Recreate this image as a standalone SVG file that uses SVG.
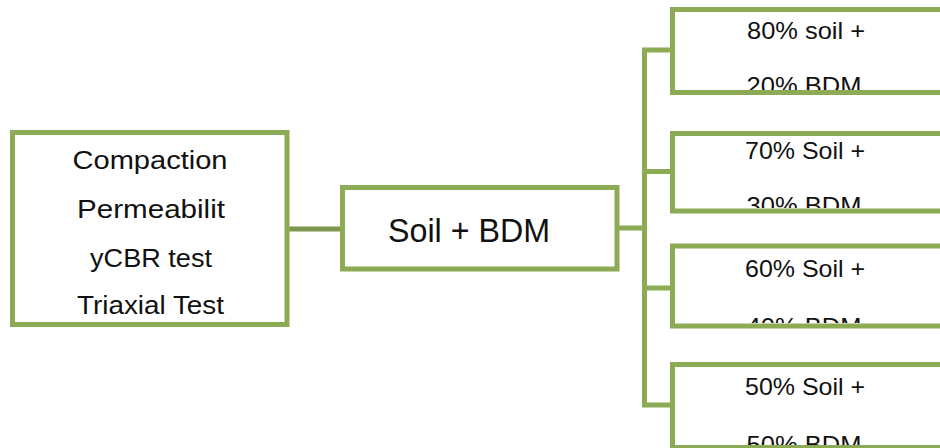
<svg xmlns="http://www.w3.org/2000/svg" width="940" height="448" viewBox="0 0 940 448">
<style>
.box{fill:#fff;stroke:#8dab55;stroke-width:5}
.conn{fill:none;stroke:#8dab55;stroke-width:5;stroke-linejoin:miter}
.t{font-family:"Liberation Sans",Arial,sans-serif;fill:#111;text-anchor:middle}
.l{font-size:26px}
.r{font-size:24px}
.m{font-size:33px}
</style>
<defs>
<clipPath id="c1"><rect x="675" y="12" width="270" height="78"/></clipPath>
<clipPath id="c2"><rect x="675" y="136" width="270" height="72"/></clipPath>
<clipPath id="c3"><rect x="675" y="248" width="270" height="75"/></clipPath>
<clipPath id="c4"><rect x="675" y="367" width="270" height="78"/></clipPath>
</defs>
<g id="connectors">
<line x1="287" y1="229" x2="343" y2="229" stroke="#7d984c" stroke-width="5"/>
<path class="conn" d="M617 228 H644.5 M644.5 50 V405.5 M642 50 H675 M642 171.5 H675 M642 288 H675 M642 405 H675"/>
</g>
<g id="n-tests">
<rect class="box" x="12.5" y="132.5" width="274.5" height="192"/>
<text class="t l" x="150" y="169" textLength="155" lengthAdjust="spacingAndGlyphs">Compaction</text>
<text class="t l" x="151" y="218" textLength="148" lengthAdjust="spacingAndGlyphs">Permeabilit</text>
<text class="t l" x="151" y="266.5" textLength="122" lengthAdjust="spacingAndGlyphs">yCBR test</text>
<text class="t l" x="150.5" y="314" textLength="147" lengthAdjust="spacingAndGlyphs">Triaxial Test</text>
</g>
<g id="n-soilbdm">
<rect class="box" x="342.5" y="187.5" width="274.5" height="81.5"/>
<text class="t m" x="469" y="242" textLength="162" lengthAdjust="spacingAndGlyphs">Soil + BDM</text>
</g>
<g id="n-80">
<rect class="box" x="672.5" y="9.5" width="280" height="83"/>
<g clip-path="url(#c1)">
<text class="t r" x="806" y="38.5" textLength="118" lengthAdjust="spacingAndGlyphs">80% soil +</text>
<text class="t r" x="804" y="94" textLength="115" lengthAdjust="spacingAndGlyphs">20% BDM</text>
</g>
</g>
<g id="n-70">
<rect class="box" x="672.5" y="133.5" width="280" height="77.5"/>
<g clip-path="url(#c2)">
<text class="t r" x="805" y="158.5" textLength="120" lengthAdjust="spacingAndGlyphs">70% Soil +</text>
<text class="t r" x="804" y="214" textLength="115" lengthAdjust="spacingAndGlyphs">30% BDM</text>
</g>
</g>
<g id="n-60">
<rect class="box" x="672.5" y="246" width="280" height="80"/>
<g clip-path="url(#c3)">
<text class="t r" x="805" y="276.5" textLength="120" lengthAdjust="spacingAndGlyphs">60% Soil +</text>
<text class="t r" x="804" y="334.5" textLength="115" lengthAdjust="spacingAndGlyphs">40% BDM</text>
</g>
</g>
<g id="n-50">
<rect class="box" x="672.5" y="364.5" width="280" height="83"/>
<g clip-path="url(#c4)">
<text class="t r" x="805" y="395" textLength="120" lengthAdjust="spacingAndGlyphs">50% Soil +</text>
<text class="t r" x="804" y="452.5" textLength="115" lengthAdjust="spacingAndGlyphs">50% BDM</text>
</g>
</g>
</svg>
